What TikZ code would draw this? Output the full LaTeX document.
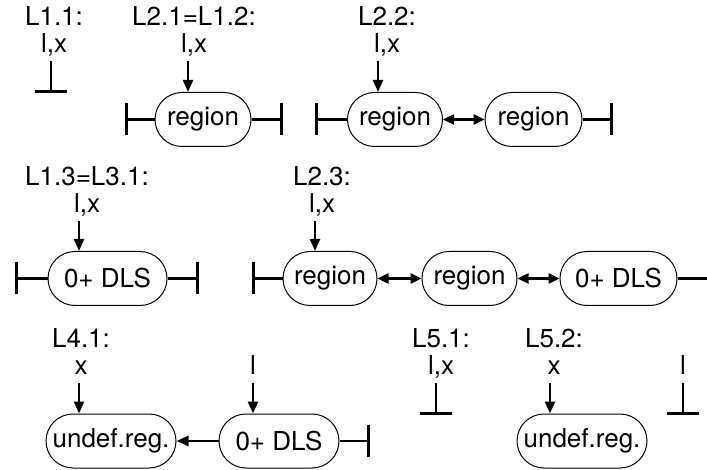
\documentclass[tikz,border=0pt]{standalone}
\usepackage{fontspec}
\setmainfont{TeX Gyre Heros}
\usetikzlibrary{arrows.meta}
\tikzset{
  lab/.style={align=center, inner sep=4pt, anchor=south, font=\fontsize{26}{27}\selectfont},
  blob/.style={draw, line width=1pt, rounded corners=27pt, minimum height=54pt, inner sep=0pt, font=\fontsize{26}{27}\selectfont},
  ptr/.style={line width=2.4pt, -{Triangle[length=12pt,width=10pt]}},
  dbl/.style={line width=2.4pt, {Triangle[length=11pt,width=10pt]}-{Triangle[length=11pt,width=10pt]}},
  term/.style={line width=2.4pt, -{Bar[width=32pt,line width=3pt]}},
}
\begin{document}
\begin{tikzpicture}[x=1pt,y=-1pt]
\useasboundingbox (0,0) rectangle (707,470);

% row 1
\node[lab] (l11) at (54,61) {L1.1:\\l,x};
\coordinate (n11) at (51,93);
\draw[term] ([xshift=-3pt]l11.south) -- (n11);

\node[blob, minimum width=96pt] (r21) at (203,119.5) {region};
\node[lab] (l21) at (194,61) {L2.1=L1.2:\\l,x};
\draw[ptr] ([xshift=-6pt]l21.south) -- ([xshift=-6pt]l21.south |- r21.north);
\coordinate (t21a) at (125,119.5);
\coordinate (t21b) at (283,119.5);
\draw[term] (r21.west) -- (t21a);
\draw[term] (r21.east) -- (t21b);

\node[blob, minimum width=95pt] (r22a) at (395,119.5) {region};
\node[blob, minimum width=97pt] (r22b) at (533.5,119.5) {region};
\node[lab] (l22) at (387,61) {L2.2:\\l,x};
\draw[ptr] ([xshift=-9pt]l22.south) -- ([xshift=-9pt]l22.south |- r22a.north);
\coordinate (t22a) at (315,119.5);
\coordinate (t22b) at (613,119.5);
\draw[term] (r22a.west) -- (t22a);
\draw[dbl] (r22a.east) -- (r22b.west);
\draw[term] (r22b.east) -- (t22b);

% row 2
\node[blob, minimum width=119pt] (d13) at (107.5,278.5) {0+ DLS};
\node[lab] (l13) at (87,221) {L1.3=L3.1:\\l,x};
\draw[ptr] ([xshift=-8pt]l13.south) -- ([xshift=-8pt]l13.south |- d13.north);
\coordinate (t13a) at (15,278.5);
\coordinate (t13b) at (199,278.5);
\draw[term] (d13.west) -- (t13a);
\draw[term] (d13.east) -- (t13b);

\node[blob, minimum width=94pt] (r23a) at (330,278.5) {region};
\node[blob, minimum width=95pt] (r23b) at (469.5,278.5) {region};
\node[blob, minimum width=117pt] (d23) at (618.5,278.5) {0+ DLS};
\node[lab] (l23) at (322,221) {L2.3:\\l,x};
\draw[ptr] ([xshift=-7pt]l23.south) -- ([xshift=-7pt]l23.south |- r23a.north);
\coordinate (t23a) at (252,278.5);
\coordinate (t23b) at (707,278.5);
\draw[term] (r23a.west) -- (t23a);
\draw[dbl] (r23a.east) -- (r23b.west);
\draw[dbl] (r23b.east) -- (d23.west);
\draw[line width=2.4pt] (d23.east) -- (t23b);

% row 3
\node[blob, minimum width=130pt] (u41) at (111,441) {undef.reg.};
\node[blob, minimum width=120pt] (d41) at (279,441) {0+ DLS};
\node[lab] (l41) at (81,383) {L4.1:\\x\vphantom{,}};
\node[lab] (l41b) at (253,383) {l\vphantom{,}};
\draw[ptr] ([xshift=-2pt]l41.south) -- ([xshift=-2pt]l41.south |- u41.north);
\draw[ptr] (l41b.south) -- (l41b.south |- d41.north);
\draw[ptr] (d41.west) -- (u41.east);
\coordinate (t41) at (370,441);
\draw[term] (d41.east) -- (t41);

\node[lab] (l51) at (441,383) {L5.1:\\l,x};
\coordinate (n51) at (436,415);
\draw[term] ([xshift=-5pt]l51.south) -- (n51);

\node[blob, minimum width=130pt] (u52) at (582,441) {undef.reg.};
\node[lab] (l52) at (554,383) {L5.2:\\x\vphantom{,}};
\draw[ptr] ([xshift=-4pt]l52.south) -- ([xshift=-4pt]l52.south |- u52.north);

\node[lab] (l53) at (683,383) {l\vphantom{,}};
\coordinate (n53) at (683,415);
\draw[term] (l53.south) -- (n53);
\end{tikzpicture}
\end{document}
